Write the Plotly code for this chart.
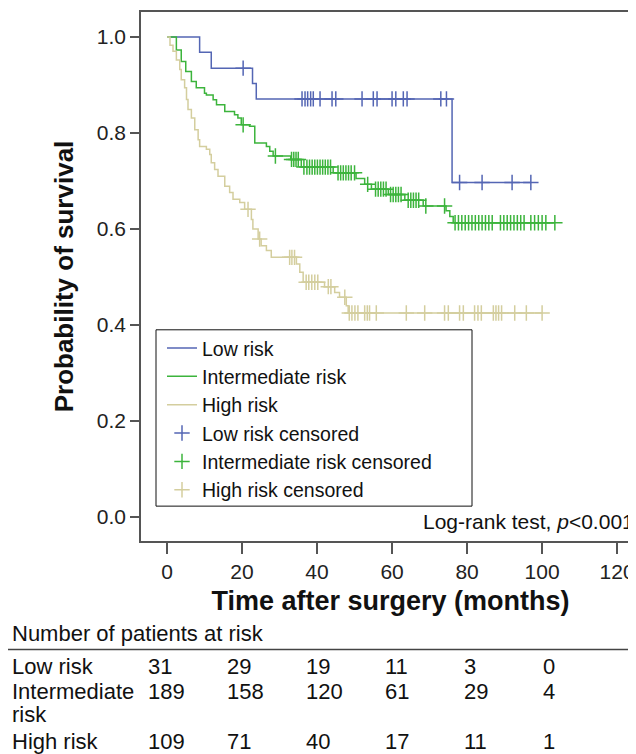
import numpy as np
import plotly.graph_objects as go

# ---------------- data ----------------
groups = ["Low risk", "Intermediate risk", "High risk"]

low_event_t = [8.7, 11.8, 22.8, 23.8, 76.0]
low_event_s = [0.968, 0.935, 0.903, 0.871, 0.697]
low_censor_t = [20.3, 36.0, 36.8, 37.5, 38.3, 39.0, 40.8, 44.0, 45.0, 52.0,
                55.0, 56.0, 60.0, 61.0, 63.0, 64.0, 73.0, 74.5, 78.0, 84.0, 92.0, 97.0]
low_end = 97.0

mid_event_t = [2.5, 3.8, 5.0, 6.5, 7.8, 10.0, 10.5, 12.3, 13.2, 15.4, 18.0, 18.9,
               19.8, 22.0, 23.4, 26.5, 27.4, 28.3, 33.0, 35.8, 44.3, 50.4, 52.7,
               54.5, 59.0, 63.4, 68.3, 74.4, 75.4, 76.3]
mid_event_s = [0.973, 0.949, 0.928, 0.907, 0.894, 0.883, 0.879, 0.869, 0.859, 0.845,
               0.838, 0.831, 0.817, 0.814, 0.779, 0.772, 0.762, 0.752, 0.745, 0.729,
               0.717, 0.705, 0.693, 0.683, 0.672, 0.660, 0.648, 0.638, 0.626, 0.613]
mid_censor_t = [20.3, 28.9, 33.2, 33.8, 34.4, 35.0, 36.5, 37.3, 38.0, 38.7, 39.4, 40.1,
                40.8, 41.5, 42.2, 42.9, 43.6, 45.6, 46.3, 47.0, 47.7, 48.4, 49.1, 50.0,
                53.5, 55.6, 56.3, 57.0, 57.7, 58.4, 59.6, 60.3, 61.0, 61.7, 62.4, 64.3,
                65.0, 65.7, 66.4, 67.1, 69.0, 74.0, 76.8, 77.7, 78.6, 79.5, 80.4, 81.3,
                82.2, 83.1, 84.0, 84.9, 85.8, 86.7, 88.9, 89.8, 90.7, 91.6, 92.5, 93.4,
                94.3, 95.2, 97.0, 98.0, 99.0, 100.0, 101.0, 103.4]
mid_end = 103.4

high_event_t = [0.8, 1.6, 2.5, 3.4, 3.8, 4.7, 5.2, 5.6, 6.5, 7.4, 8.3, 8.7, 10.5,
                11.4, 11.8, 12.7, 13.6, 15.4, 16.7, 17.6, 19.4, 20.7, 22.5, 22.9,
                24.3, 25.1, 26.5, 27.8, 34.5, 35.4, 36.3, 42.0, 44.7, 46.0, 47.8, 48.3]
high_event_s = [0.983, 0.970, 0.952, 0.932, 0.911, 0.894, 0.870, 0.849, 0.831, 0.807,
                0.786, 0.772, 0.766, 0.755, 0.738, 0.724, 0.710, 0.689, 0.676, 0.662,
                0.655, 0.641, 0.620, 0.600, 0.579, 0.565, 0.555, 0.541, 0.527, 0.510,
                0.489, 0.480, 0.468, 0.458, 0.440, 0.425]
high_censor_t = [21.6, 24.7, 32.7, 33.3, 34.0, 37.1, 37.8, 38.6, 39.4, 40.2, 43.0,
                 43.7, 47.4, 48.6, 49.3, 50.1, 50.9, 52.7, 53.4, 54.0, 55.8, 63.8,
                 68.7, 74.0, 75.0, 78.0, 79.0, 82.0, 82.9, 83.8, 87.0, 87.7, 88.4,
                 89.2, 92.7, 95.8, 100.0]
high_end = 100.0

risk_times = [0, 20, 40, 60, 80, 100]
at_risk_low = [31, 29, 19, 11, 3, 0]
at_risk_mid = [189, 158, 120, 61, 29, 4]
at_risk_high = [109, 71, 40, 17, 11, 1]

x_ticks = [0, 20, 40, 60, 80, 100, 120]
y_ticks = [0.0, 0.2, 0.4, 0.6, 0.8, 1.0]

# ---------------- styles ----------------
colors = ["#5466b4", "#3cb43c", "#d4ce9e"]
FONT = "Liberation Sans, Arial, Helvetica, sans-serif"

W, H = 636, 754
ML, MR, MT, MB = 133, 4, 2, 221

fig = go.Figure()


def step_xy(et, es, end):
    xs = [0.0] + list(et) + [end]
    ys = [1.0] + list(es) + [es[-1]]
    return xs, ys


def surv_at(et, es, t):
    et = np.asarray(et)
    es = np.asarray([1.0] + list(es))
    idx = np.searchsorted(et, np.asarray(t), side="right")
    return es[idx]


series = [
    (low_event_t, low_event_s, low_censor_t, low_end),
    (mid_event_t, mid_event_s, mid_censor_t, mid_end),
    (high_event_t, high_event_s, high_censor_t, high_end),
]

for name, col, (et, es, ct, end) in zip(groups, colors, series):
    xs, ys = step_xy(et, es, end)
    fig.add_trace(go.Scatter(x=xs, y=ys, mode="lines", name=name,
                             line=dict(color=col, width=1.5, shape="hv")))

for name, col, (et, es, ct, end) in zip(groups, colors, series):
    fig.add_trace(go.Scatter(x=ct, y=surv_at(et, es, ct), mode="markers",
                             name=name + " censored",
                             marker=dict(symbol="cross-thin", size=11, color=col,
                                         line=dict(color=col, width=1.5))))

axis_common = dict(showline=True, mirror=True, linecolor="#555555", linewidth=1.5,
                   ticks="outside", tickwidth=1.5, tickcolor="#555555",
                   showgrid=False, zeroline=False,
                   tickfont=dict(family=FONT, size=21, color="#222222"))

fig.update_xaxes(range=[-6.93, 126.1], tickvals=x_ticks, ticklen=11,
                 ticktext=[str(v) for v in x_ticks],
                 title=dict(text="<b>Time after surgery (months)</b>", standoff=9,
                            font=dict(family=FONT, size=27, color="#111111")),
                 **axis_common)
fig.update_yaxes(range=[-0.0498, 1.052], tickvals=y_ticks, ticklen=9,
                 ticktext=[f"{v:.1f}" for v in y_ticks],
                 title=dict(text="<b>Probability of survival</b>", standoff=16,
                            font=dict(family=FONT, size=26, color="#111111")),
                 **axis_common)

plot_w = W - ML - MR
plot_h = H - MT - MB


def px_x(px):
    return (px - ML) / plot_w


def px_y(py):
    return (H - MB - py) / plot_h


# legend frame (drawn as a shape so that its size matches the reference)
fig.add_shape(type="rect", xref="paper", yref="paper", layer="above",
              x0=px_x(148), x1=px_x(464), y0=px_y(321), y1=px_y(498),
              line=dict(color="#111111", width=1), fillcolor="rgba(0,0,0,0)")

fig.add_annotation(text="Log-rank test, <i>p</i>&lt;0.001", xref="paper", yref="paper",
                   x=px_x(628), y=px_y(513), xanchor="right", yanchor="middle",
                   showarrow=False, font=dict(family=FONT, size=21, color="#111111"))

# at-risk table
TABLE_FONT = dict(family=FONT, size=22, color="#111111")
fig.add_annotation(text="Number of patients at risk", xref="paper", yref="paper",
                   x=px_x(2), y=px_y(626), xanchor="left", yanchor="middle",
                   showarrow=False, font=TABLE_FONT)
fig.add_shape(type="line", xref="paper", yref="paper", x0=px_x(0), x1=px_x(636),
              y0=px_y(642), y1=px_y(642), line=dict(color="#444444", width=1.5))

row_labels = ["Low risk", "Intermediate", "High risk"]
row_y = [659, 684, 734]
row_vals = [at_risk_low, at_risk_mid, at_risk_high]
col_x = [138, 217, 296, 375, 454, 533]
for lab, ry, vals in zip(row_labels, row_y, row_vals):
    fig.add_annotation(text=lab, xref="paper", yref="paper", x=px_x(2), y=px_y(ry),
                       xanchor="left", yanchor="middle", showarrow=False,
                       font=TABLE_FONT)
    for cx, v in zip(col_x, vals):
        fig.add_annotation(text=str(v), xref="paper", yref="paper", x=px_x(cx),
                           y=px_y(ry), xanchor="left", yanchor="middle",
                           showarrow=False, font=TABLE_FONT)
fig.add_annotation(text="risk", xref="paper", yref="paper", x=px_x(2), y=px_y(707),
                   xanchor="left", yanchor="middle", showarrow=False,
                   font=TABLE_FONT)

fig.update_layout(
    width=W, height=H,
    margin=dict(l=ML, r=MR, t=MT, b=MB),
    paper_bgcolor="white", plot_bgcolor="white",
    font=dict(family=FONT, color="#111111"),
    legend=dict(x=px_x(154), y=px_y(320), xanchor="left", yanchor="top",
                borderwidth=0, bgcolor="rgba(0,0,0,0)",
                font=dict(family=FONT, size=19.5, color="#111111"),
                tracegroupgap=0, itemwidth=30),
    showlegend=True,
)

fig.write_html("out.html")
